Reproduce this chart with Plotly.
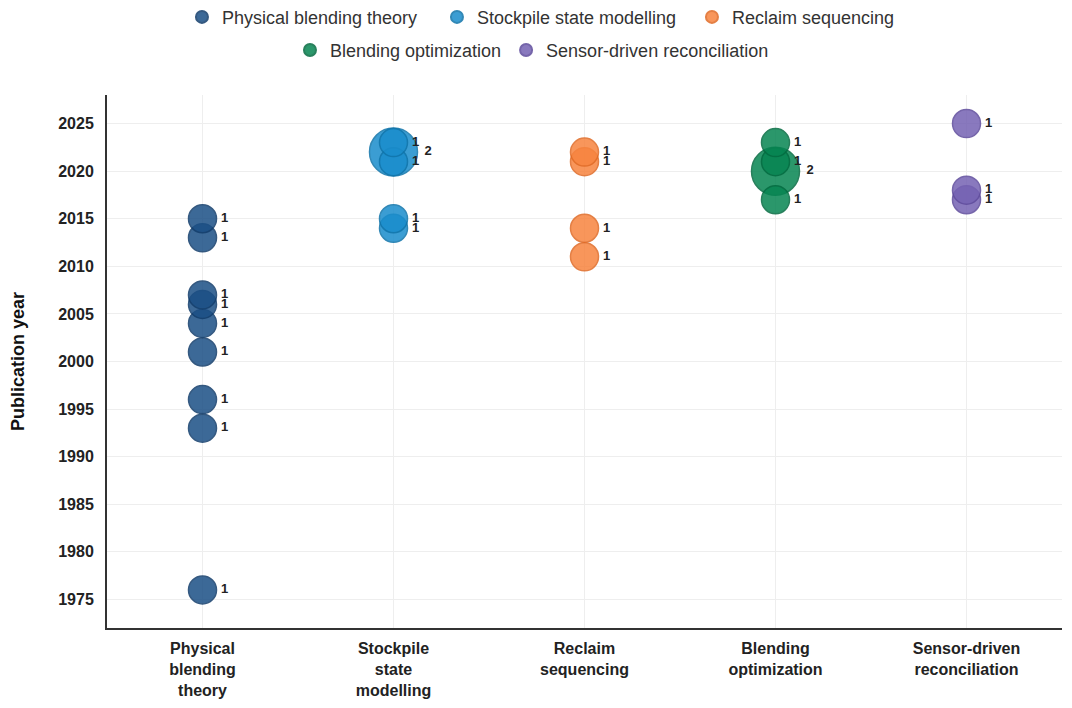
import plotly.graph_objects as go

categories = ["Physical blending theory", "Stockpile state modelling", "Reclaim sequencing",
              "Blending optimization", "Sensor-driven reconciliation"]
tick_labels = ["Physical<br>blending<br>theory", "Stockpile<br>state<br>modelling",
               "Reclaim<br>sequencing", "Blending<br>optimization", "Sensor-driven<br>reconciliation"]
colors = ["#1b4f85", "#1a8dcc", "#f7843f", "#078552", "#7562b3"]
edge_colors = ["#123d6b", "#0f74aa", "#e06a25", "#036b40", "#5e4b9c"]

physical_years = [1976, 1993, 1996, 2001, 2004, 2006, 2007, 2013, 2015]
physical_counts = [1, 1, 1, 1, 1, 1, 1, 1, 1]
stockpile_years = [2014, 2015, 2021, 2022, 2023]
stockpile_counts = [1, 1, 1, 2, 1]
reclaim_years = [2011, 2014, 2021, 2022]
reclaim_counts = [1, 1, 1, 1]
optimization_years = [2017, 2020, 2021, 2023]
optimization_counts = [1, 2, 1, 1]
sensor_years = [2017, 2018, 2025]
sensor_counts = [1, 1, 1]

series = [
    (physical_years, physical_counts),
    (stockpile_years, stockpile_counts),
    (reclaim_years, reclaim_counts),
    (optimization_years, optimization_counts),
    (sensor_years, sensor_counts),
]

FONT = "Liberation Sans, Arial, sans-serif"

fig = go.Figure()
for i, (cat, (years, counts)) in enumerate(zip(categories, series)):
    # bigger counts drawn first so small bubbles sit on top
    order = sorted(range(len(years)), key=lambda k: -counts[k])
    ys = [years[k] for k in order]
    cs = [counts[k] for k in order]
    fig.add_trace(go.Scatter(
        x=[tick_labels[i]] * len(ys),
        y=ys,
        mode="markers+text",
        name=cat,
        text=[str(c) for c in cs],
        textposition="middle right",
        textfont=dict(family=FONT, size=13, color="#222", weight="bold"),
        marker=dict(size=[8 + 20 * c for c in cs], color=colors[i], opacity=0.85,
                    line=dict(color=edge_colors[i], width=1.5)),
        legend="legend" if i < 3 else "legend2",
        cliponaxis=False,
    ))

# page body adds an 8px offset, margins compensate for it
fig.update_layout(
    width=1072, height=708,
    margin=dict(l=99, r=18, t=87, b=88, autoexpand=False),
    paper_bgcolor="white", plot_bgcolor="white",
    font=dict(family=FONT, color="#333"),
    showlegend=True,
    legend=dict(orientation="h", x=0.0785, xanchor="left", y=1.146, yanchor="middle",
                entrywidth=210, font=dict(size=18, color="#333"), itemsizing="constant"),
    legend2=dict(orientation="h", x=0.1916, xanchor="left", y=1.084, yanchor="middle",
                 font=dict(size=18, color="#333"), itemsizing="constant"),
)
fig.update_xaxes(
    type="category", categoryorder="array", categoryarray=tick_labels,
    range=[-0.5, 4.5], showgrid=True, gridcolor="#eeeeee", automargin=False,
    showline=True, linecolor="#333", linewidth=2, ticks="", ticklabelstandoff=5,
    tickfont=dict(family=FONT, size=16, color="#222", weight="bold"),
)
fig.update_yaxes(
    range=[1972, 2028], dtick=5, tick0=1975, showgrid=True, gridcolor="#eeeeee",
    showline=True, linecolor="#333", linewidth=2, zeroline=False, automargin=False,
    ticklabelstandoff=8,
    tickfont=dict(family=FONT, size=16, color="#222", weight="bold"),
    title=dict(text="Publication year", font=dict(family=FONT, size=18, color="#111", weight="bold"),
               standoff=30),
)

fig.write_html("out.html")
